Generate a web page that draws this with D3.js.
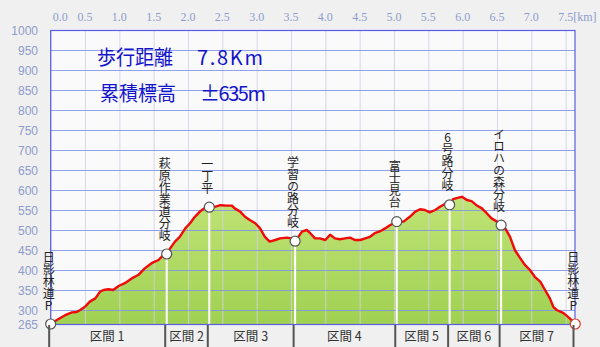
<!DOCTYPE html>
<html><head><meta charset="utf-8">
<script src="https://cdn.jsdelivr.net/npm/d3@7"></script>
<style>
html,body{margin:0;padding:0;background:#f0f0f0;}
svg{display:block;}
</style></head><body>
<svg id="c" width="600" height="347"></svg>
<script>
// ---- data ----
const distKm = [0.00,0.09,0.21,0.31,0.38,0.43,0.50,0.57,0.65,0.72,0.77,0.84,0.91,0.99,1.08,1.18,1.28,1.37,1.47,1.57,1.64,1.69,
  1.74,1.81,1.88,1.96,2.03,2.10,2.18,2.25,2.31,2.39,2.47,2.56,2.64,2.68,2.76,2.83,2.90,2.98,3.05,3.12,3.19,3.27,3.34,3.44,3.51,3.56,
  3.66,3.73,3.78,3.85,3.92,4.00,4.07,4.14,4.21,4.29,4.36,4.43,4.51,4.58,4.65,4.72,4.80,4.87,4.94,5.04,
  5.14,5.23,5.31,5.38,5.45,5.52,5.60,5.67,5.74,5.81,5.86,5.94,5.99,6.06,6.13,6.20,6.28,6.35,6.42,6.50,6.56,
  6.62,6.69,6.76,6.84,6.91,6.98,7.05,7.13,7.20,7.27,7.32,7.37,7.47,7.56,7.64];
const elevM = [265,275,287,294,295,300,308,321,329,346,350,352,350,360,367,379,388,404,417,425,437,440,
  454,471,483,504,517,533,547,556,557,558,562,561,561,554,546,533,525,517,504,483,471,475,479,481,479,472,
  496,500,492,479,479,475,488,479,477,479,481,475,475,479,483,492,497,504,512,521,
  521,533,546,552,550,544,550,558,565,563,577,581,583,575,572,562,554,542,529,521,512,
  504,483,450,429,412,400,383,371,350,329,308,300,292,279,265];
const wpNames = ["日影林道P","萩原作業道分岐","一丁平","学習の路分岐","富士見台","6号路分岐","イロハの森分岐","日影林道P"];
const wpKm   = [0.00, 1.69, 2.31, 3.56, 5.04, 5.81, 6.56, 7.64];
const wpElev = [265, 440, 557, 472, 521, 563, 512, 265];
const sectionLabels = ["区間 1","区間 2","区間 3","区間 4","区間 5","区間 6","区間 7"];
const xTicks = [0,0.5,1,1.5,2,2.5,3,3.5,4,4.5,5,5.5,6,6.5,7,7.5];
const yTicks = [265,300,350,400,450,500,550,600,650,700,750,800,850,900,950,1000];
const titleLabels = ["歩行距離","累積標高"];
const titleValues = ["7.8Km","±635m"];

// ---- drawing ----
const svg = d3.select("#c");
const x = d3.scaleLinear().domain([0, 7.636]).range([50.67, 575]);
const y = d3.scaleLinear().domain([265, 1000]).range([324, 30]);
const X0 = x.range()[0], X1 = x.range()[1], Y0 = y.range()[0], Y1 = y.range()[1];

svg.append("rect").attr("x",X0).attr("y",Y1).attr("width",X1-X0).attr("height",Y0-Y1).attr("fill","#fafafa");

const defs = svg.append("defs");
const g = defs.append("linearGradient").attr("id","gf").attr("x1",0).attr("y1",0).attr("x2",0).attr("y2",1);
g.append("stop").attr("offset","0%").attr("stop-color","#c0e376");
g.append("stop").attr("offset","100%").attr("stop-color","#a0d152");

const pts = distKm.map((d,i)=>[d, elevM[i]]);
svg.append("path").datum(pts)
  .attr("d", d3.area().x(d=>x(d[0])).y0(Y0).y1(d=>y(d[1])))
  .attr("fill","url(#gf)");

// grid
svg.append("g").selectAll("line").data(xTicks).join("line")
  .attr("x1",d=>x(d)+0.5).attr("x2",d=>x(d)+0.5).attr("y1",Y1).attr("y2",Y0)
  .attr("stroke","#d2d4e0").attr("stroke-opacity",0.85).attr("stroke-width",1);
svg.append("g").selectAll("line").data(yTicks.filter(v=>v>265&&v<1000)).join("line")
  .attr("x1",X0).attr("x2",X1).attr("y1",d=>Math.round(y(d))+0.5).attr("y2",d=>Math.round(y(d))+0.5)
  .attr("stroke","#7f92e6").attr("stroke-opacity",0.85).attr("stroke-width",1);

// waypoint white lines
svg.append("g").selectAll("line").data(wpKm).join("line")
  .attr("x1",d=>x(d)).attr("x2",d=>x(d)).attr("y1",(d,i)=>y(wpElev[i])).attr("y2",Y0)
  .attr("stroke","#ffffff").attr("stroke-width",2);

// border
svg.append("rect").attr("x",X0).attr("y",Y1+0.5).attr("width",X1-X0).attr("height",Y0-Y1)
  .attr("fill","none").attr("stroke","#5a5ee6").attr("stroke-width",1.2);

// profile line
svg.append("path").datum(pts)
  .attr("d", d3.line().x(d=>x(d[0])).y(d=>y(d[1])))
  .attr("fill","none").attr("stroke","#f00a0a").attr("stroke-width",2.4).attr("stroke-linejoin","round");

// circles
svg.append("g").selectAll("circle").data(wpKm).join("circle")
  .attr("cx",d=>x(d)).attr("cy",(d,i)=>y(wpElev[i])).attr("r",5)
  .attr("fill","#ffffff").attr("stroke",(d,i)=>i===wpKm.length-1?"#d04030":"#555555").attr("stroke-width",1.2);

// waypoint labels (vertical)
svg.append("g").selectAll("text").data(wpNames).join("text")
  .attr("x",(d,i)=>x(wpKm[i])-2).attr("y",(d,i)=>y(wpElev[i])-13)
  .attr("writing-mode","vertical-rl")
  .style("text-orientation","upright")
  .attr("text-anchor","end")
  .attr("font-family","'Noto Sans CJK JP', sans-serif").attr("font-size",12).attr("fill","#222")
  .text(d=>d);

// axes labels
svg.append("g").selectAll("text").data(yTicks).join("text")
  .attr("x",38).attr("y",d=>y(d)+4.5).attr("text-anchor","end")
  .attr("font-family","'Liberation Sans', sans-serif").attr("font-size",12).attr("fill","#8e9bcc")
  .text(d=>d);
svg.append("g").selectAll("text").data(xTicks).join("text")
  .attr("x",d=>d===0?X0+2:(d===7.5?x(d)-7.5:x(d))).attr("y",21)
  .attr("text-anchor",d=>(d===0||d===7.5)?"start":"middle")
  .attr("font-family","'Liberation Serif', serif").attr("font-size",12).attr("fill","#8e9bcc")
  .text(d=>d===7.5?d.toFixed(1)+"[km]":d.toFixed(1));

// titles
titleLabels.forEach((t,i)=>{
  const by = [65,101][i];
  svg.append("text").attr("x",[97,100][i]).attr("y",by)
    .attr("font-family","'Noto Sans CJK JP', sans-serif").attr("font-size",20).attr("fill","#1414cc")
    .attr("textLength",76).attr("lengthAdjust","spacingAndGlyphs").text(t);
  svg.append("text").attr("x",[197,200][i]).attr("y",by)
    .attr("font-family","'Noto Sans CJK JP', sans-serif").attr("font-size",20).attr("fill","#1414cc")
    .attr("textLength",66).attr("lengthAdjust","spacing").text(titleValues[i]);
});

// section bar
const sepX = wpKm.map(d=>Math.min(x(d),X1)-1.5);
svg.append("g").selectAll("line").data(sepX).join("line")
  .attr("x1",d=>d).attr("x2",d=>d).attr("y1",Y0+1).attr("y2",347)
  .attr("stroke","#555").attr("stroke-width",2);
svg.append("g").selectAll("text").data(sectionLabels).join("text")
  .attr("x",(d,i)=>(sepX[i]+sepX[i+1])/2).attr("y",341).attr("text-anchor","middle")
  .attr("font-family","'Noto Sans CJK JP', sans-serif").attr("font-size",12.5).attr("fill","#333")
  .text(d=>d);
</script>
</body></html>
